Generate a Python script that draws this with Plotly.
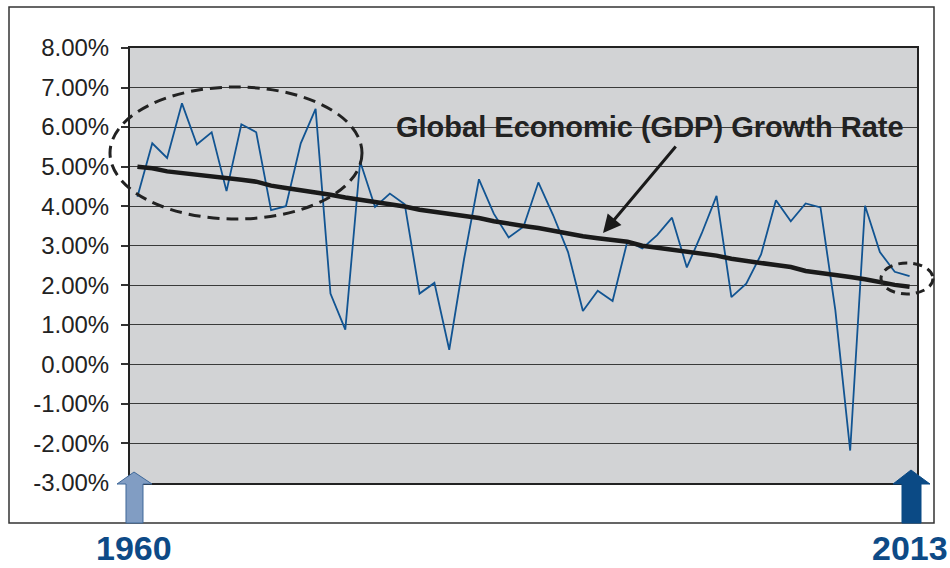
import plotly.graph_objects as go

years = list(range(1961, 2014))
gdp_growth = [4.24, 5.59, 5.22, 6.60, 5.56, 5.87, 4.38, 6.07, 5.87, 3.90,
              4.00, 5.59, 6.46, 1.79, 0.88, 5.13, 3.98, 4.32, 4.05, 1.79,
              2.06, 0.37, 2.67, 4.68, 3.81, 3.21, 3.48, 4.60, 3.77, 2.84,
              1.35, 1.86, 1.60, 3.12, 2.93, 3.27, 3.71, 2.45, 3.31, 4.26,
              1.70, 2.04, 2.78, 4.15, 3.62, 4.07, 3.97, 1.37, -2.18, 4.01,
              2.84, 2.34, 2.23]
trend = [5.00, 4.96, 4.88, 4.84, 4.81, 4.77, 4.72, 4.67, 4.62, 4.52,
         4.46, 4.41, 4.35, 4.29, 4.22, 4.16, 4.10, 4.06, 3.99, 3.91,
         3.86, 3.81, 3.76, 3.70, 3.62, 3.55, 3.50, 3.45, 3.38, 3.30,
         3.24, 3.19, 3.14, 3.10, 3.00, 2.95, 2.90, 2.86, 2.81, 2.75,
         2.67, 2.61, 2.56, 2.51, 2.46, 2.36, 2.31, 2.27, 2.21, 2.15,
         2.07, 2.01, 1.96]
y_ticks = [8, 7, 6, 5, 4, 3, 2, 1, 0, -1, -2, -3]
y_ticktext = ["%.2f%%" % v for v in y_ticks]
start_label = "1960"
end_label = "2013"
series_label = "Global Economic (GDP) Growth Rate"

W, H = 950, 568
L, R, T, B = 130, 917, 48, 483


def px(x):
    return (x - L) / (R - L)


def py(y):
    return (B - y) / (B - T)


fig = go.Figure()
fig.add_trace(go.Scatter(x=years, y=gdp_growth, mode="lines",
                         line=dict(color="#115492", width=1.8), hoverinfo="x+y"))
fig.add_trace(go.Scatter(x=years, y=trend, mode="lines",
                         line=dict(color="#1a1a1a", width=4.5), hoverinfo="x+y"))

shapes = []
# outer frame
shapes.append(dict(type="rect", xref="paper", yref="paper",
                   x0=px(9), x1=px(934), y0=py(523), y1=py(7),
                   line=dict(color="#333333", width=1.5), layer="below"))
# dashed ellipses
shapes.append(dict(type="circle", xref="paper", yref="paper",
                   x0=px(110), x1=px(362), y0=py(219), y1=py(87),
                   line=dict(color="#222222", width=3, dash="12px,7px")))
shapes.append(dict(type="circle", xref="paper", yref="paper",
                   x0=px(881), x1=px(933), y0=py(294), y1=py(263),
                   line=dict(color="#222222", width=3, dash="9px,6px")))


def up_arrow(tipx, tipy, hx0, hx1, hy, sx0, sx1, by):
    pts = [(tipx, tipy), (hx1, hy), (sx1, hy), (sx1, by), (sx0, by), (sx0, hy), (hx0, hy)]
    return "M " + " L ".join("%f,%f" % (px(a), py(b)) for a, b in pts) + " Z"


shapes.append(dict(type="path", xref="paper", yref="paper",
                   path=up_arrow(134, 472, 117, 152, 484, 126, 143, 523),
                   fillcolor="#819dc3", line=dict(color="#3f6899", width=1)))
shapes.append(dict(type="path", xref="paper", yref="paper",
                   path=up_arrow(911, 470, 893, 930, 484, 902, 921, 523),
                   fillcolor="#0b4a85", line=dict(color="#0b4a85", width=1)))

annotations = [
    dict(xref="paper", yref="paper", x=px(650), y=py(127), text="<b>%s</b>" % series_label,
         showarrow=False, font=dict(size=29, color="#222222", family="Liberation Sans, Arial"),
         xanchor="center", yanchor="middle"),
    dict(xref="paper", yref="paper", x=px(603), y=py(233), ax=74, ay=-88,
         axref="pixel", ayref="pixel", text="", showarrow=True,
         arrowhead=2, arrowsize=1.2, arrowwidth=3, arrowcolor="#1a1a1a"),
    dict(xref="paper", yref="paper", x=px(134), y=py(548), text="<b>%s</b>" % start_label,
         showarrow=False, font=dict(size=34, color="#0d4a86", family="Liberation Sans, Arial"),
         xanchor="center", yanchor="middle"),
    dict(xref="paper", yref="paper", x=px(909.5), y=py(548), text="<b>%s</b>" % end_label,
         showarrow=False, font=dict(size=34, color="#0d4a86", family="Liberation Sans, Arial"),
         xanchor="center", yanchor="middle"),
]

fig.update_layout(
    width=W, height=H,
    margin=dict(l=L, r=W - R, t=T, b=H - B, pad=0),
    paper_bgcolor="white",
    plot_bgcolor="#d2d3d5",
    showlegend=False,
    font=dict(family="Liberation Sans, Arial", color="#222222"),
    shapes=shapes,
    annotations=annotations,
    xaxis=dict(range=[1960.5, 2013.5], showgrid=False, zeroline=False,
               showticklabels=False, ticks="", showline=True, mirror=True,
               linecolor="#222222", linewidth=2),
    yaxis=dict(range=[-3, 8], tickvals=y_ticks, ticktext=y_ticktext,
               tickfont=dict(size=24, color="#222222"),
               ticks="outside", ticklen=7, tickcolor="#333333", tickwidth=1.5,
               ticklabelstandoff=7,
               showgrid=True, gridcolor="#3a3a3a", gridwidth=1,
               zeroline=False, showline=True, mirror=True,
               linecolor="#222222", linewidth=2),
)

fig.write_html("out.html")
